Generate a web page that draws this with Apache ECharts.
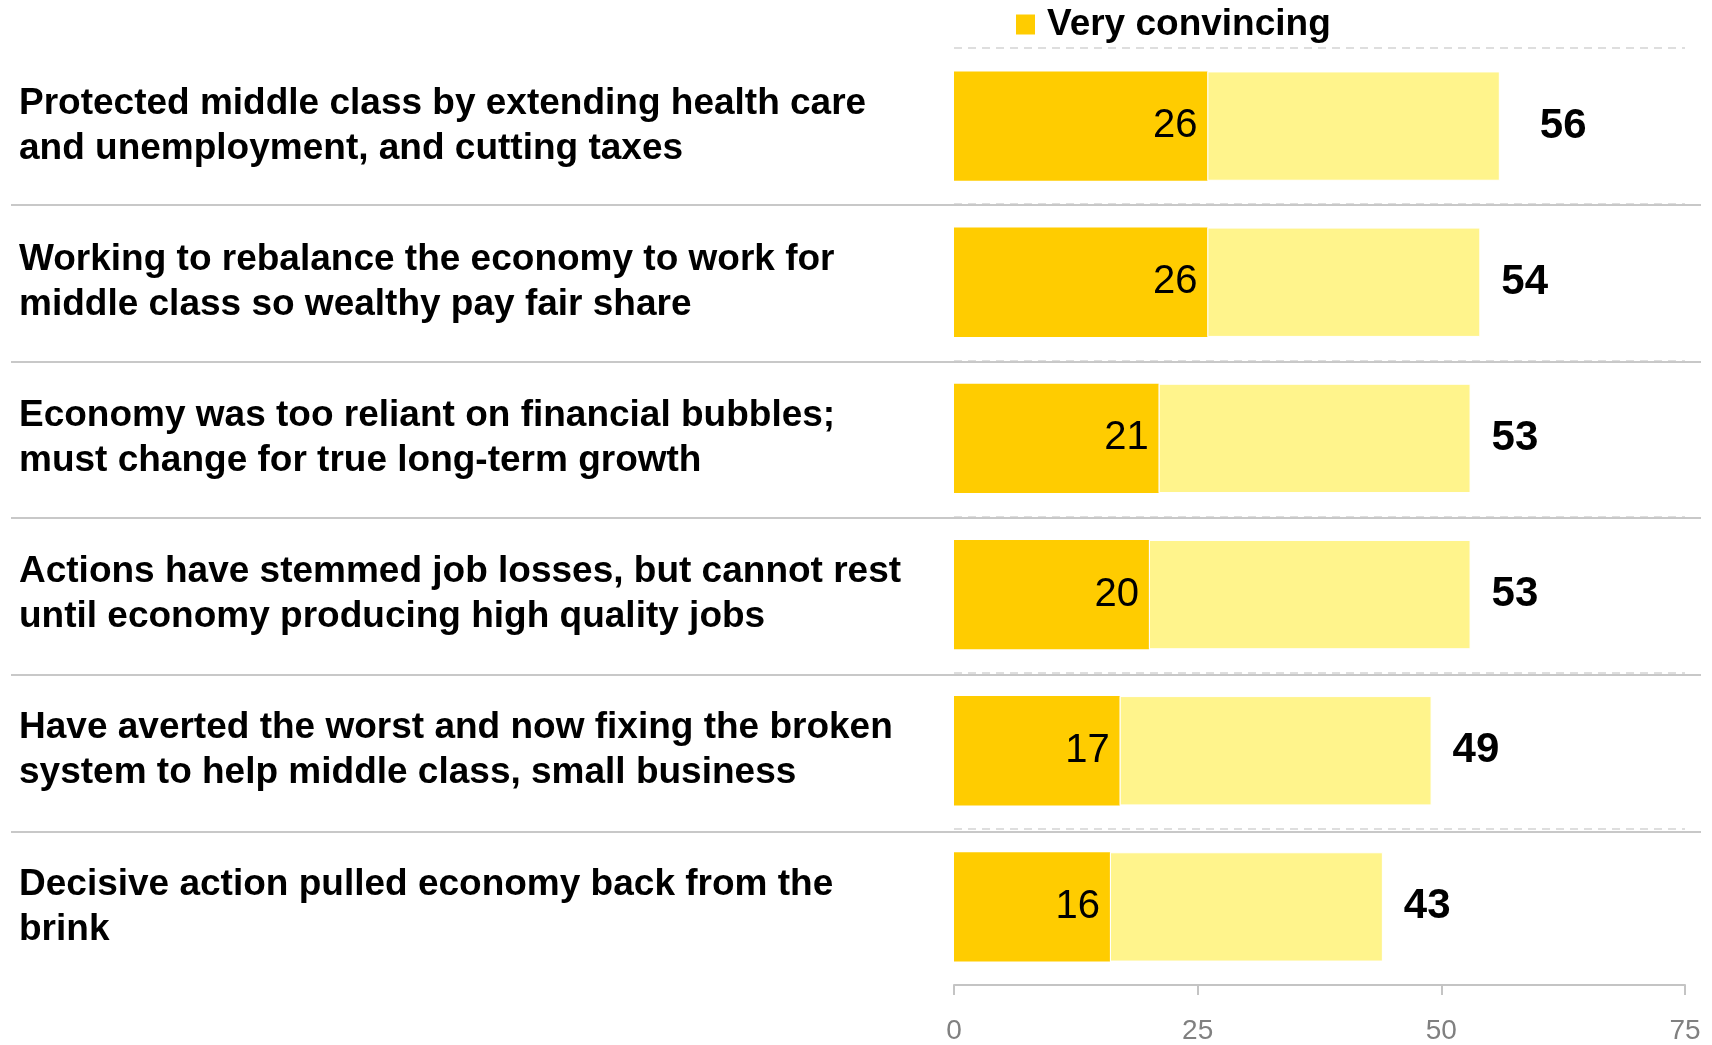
<!DOCTYPE html>
<html>
<head>
<meta charset="utf-8">
<script src="https://cdn.jsdelivr.net/npm/echarts@6/dist/echarts.min.js"></script>
<style>html,body{margin:0;padding:0;background:#fff}#c{width:1712px;height:1045px}</style>
</head>
<body>
<div id="c"></div>
<script>
const categories = [
  "Protected middle class by extending health care\nand unemployment, and cutting taxes",
  "Working to rebalance the economy to work for\nmiddle class so wealthy pay fair share",
  "Economy was too reliant on financial bubbles;\nmust change for true long-term growth",
  "Actions have stemmed job losses, but cannot rest\nuntil economy producing high quality jobs",
  "Have averted the worst and now fixing the broken\nsystem to help middle class, small business",
  "Decisive action pulled economy back from the\nbrink"
];
const veryConvincing = [26, 26, 21, 20, 17, 16];
const somewhatConvincing = [30, 28, 32, 33, 32, 28];
const totalLabels = [56, 54, 53, 53, 49, 43];
const xTicks = [0, 25, 50, 75];

const FONT = "'Liberation Sans', Arial, Helvetica, sans-serif";
const chart = echarts.init(document.getElementById('c'), null, {renderer: 'canvas'});

const option = {
  backgroundColor: '#ffffff',
  animation: false,
  textStyle: {fontFamily: FONT},
  legend: {
    data: ['Very convincing'],
    left: 1011, top: 1,
    icon: 'rect', itemWidth: 19, itemHeight: 20,
    textStyle: {fontFamily: FONT, fontWeight: 'bold', fontSize: 37, color: '#000', padding: [0, 0, 0, 7]},
    selectedMode: false
  },
  grid: [
    {left: 954, right: 27, top: 48, bottom: 57, containLabel: false},
    {left: 11, right: 11, top: 48, bottom: 57, containLabel: false}
  ],
  xAxis: [
    {
      type: 'value', gridIndex: 0, min: 0, max: 75, interval: 25,
      axisLine: {show: true, lineStyle: {color: '#c4c4c4', width: 2}},
      axisTick: {show: true, length: 10, lineStyle: {color: '#c4c4c4', width: 2}},
      axisLabel: {fontFamily: FONT, fontSize: 28, color: '#808080', margin: 32,
        formatter: v => xTicks.indexOf(v) >= 0 ? String(v) : ''},
      splitLine: {show: false}
    },
    {type: 'value', gridIndex: 1, min: 0, max: 1, show: false}
  ],
  yAxis: [
    {
      type: 'category', gridIndex: 0, data: categories, inverse: true,
      axisLine: {show: false}, axisTick: {show: false},
      axisLabel: {
        fontFamily: FONT, fontSize: 37, fontWeight: 'bold', color: '#000',
        align: 'left', margin: 935, lineHeight: 45
      },
      splitLine: {show: true, lineStyle: {color: '#d4d4d4', width: 1.5, type: [8, 6]}}
    },
    {
      type: 'value', gridIndex: 1, min: 0, max: 6, interval: 1,
      axisLine: {show: false}, axisTick: {show: false}, axisLabel: {show: false},
      splitLine: {show: true, showMinLine: false, showMaxLine: false, lineStyle: {color: '#c8c8c8', width: 2}}
    }
  ],
  series: [
    {
      name: 'Very convincing', type: 'bar', stack: 'total', xAxisIndex: 0, yAxisIndex: 0,
      data: veryConvincing, barWidth: '70%',
      itemStyle: {color: '#FFCC00'},
      label: {show: true, position: 'insideRight', distance: 10, fontFamily: FONT, fontSize: 40, color: '#000'}
    },
    {
      name: 'Somewhat convincing', type: 'bar', stack: 'total', xAxisIndex: 0, yAxisIndex: 0,
      data: somewhatConvincing.map((v, i) => ({
        value: v,
        label: {distance: i === 0 ? 40 : 21}
      })),
      barWidth: '70%',
      itemStyle: {color: '#FFF48C', borderColor: '#ffffff', borderWidth: 1},
      label: {show: true, position: 'right', fontFamily: FONT, fontSize: 42, fontWeight: 'bold', color: '#000',
        formatter: p => String(totalLabels[p.dataIndex])}
    }
  ]
};
chart.setOption(option);
</script>
</body>
</html>
